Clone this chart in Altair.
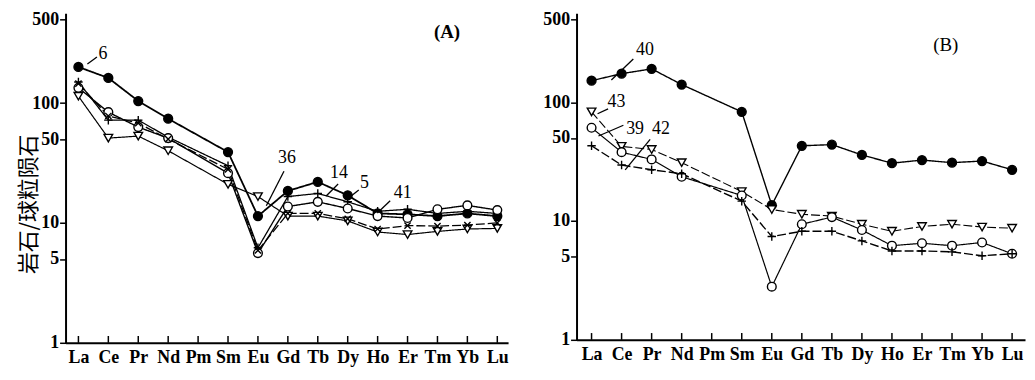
import json
import altair as alt
import pandas as pd

elements = ["La", "Ce", "Pr", "Nd", "Pm", "Sm", "Eu", "Gd", "Tb", "Dy", "Ho", "Er", "Tm", "Yb", "Lu"]

# ---- Panel A (Pm not analysed) ----
a_s6  = [200, 162, 104, 74, None, 39, 11.4, 18.5, 22, 17, 12, 11.8, 11.4, 12, 11.4]
a_s36 = [114, 51, 53, 40, None, 21, 16.6, 11.4, 11.4, 10.4, 8.4, 8.0, 8.5, 8.9, 9.0]
a_s14 = [150, 72, 72, 52, None, 30, 6.2, 16.6, 17.6, 15, 12.5, 13, 12, 12.5, 12]
a_s5  = [134, 84, 63, 51, None, 26, 5.6, 13.7, 15, 13.2, 11.4, 11, 13, 14, 12.8]
a_s41 = [145, 78, 68, 50, None, 28, 5.9, 12, 12, 10.8, 8.9, 9.5, 9.4, 9.6, 10]

# ---- Panel B ----
b_s40 = [152, 174, 191, 141, None, 83, 13.6, 43, 44, 36, 30.7, 32.6, 31, 32, 27]
b_s43 = [83, 42.5, 40, 31, None, 17.7, 12.5, 11.4, 11, 9.4, 8.2, 9.0, 9.4, 8.9, 8.7]
b_s39 = [61, 38, 33, 23.6, None, 16.4, 2.8, 9.4, 10.8, 8.4, 6.2, 6.5, 6.2, 6.6, 5.3]
b_s42 = [43, 29.6, 27, 25, None, 14.7, 7.4, 8.2, 8.2, 6.8, 5.6, 5.6, 5.5, 5.1, 5.3]

# sample -> (values, marker, line style, line width)
panel_a = {
    "6":  (a_s6,  "filled", "solid", 1.8),
    "36": (a_s36, "tri",    "solid", 1.2),
    "14": (a_s14, "plus",   "solid", 1.3),
    "5":  (a_s5,  "open",   "solid", 1.4),
    "41": (a_s41, "x",      "dash",  1.3),
}
panel_b = {
    "40": (b_s40, "filled", "solid", 1.4),
    "43": (b_s43, "tri",    "dash",  1.1),
    "39": (b_s39, "open",   "solid", 1.2),
    "42": (b_s42, "plus",   "dash",  1.4),
}

# sample labels (text, element index position, value position)
a_lab_text = ["6", "36", "14", "5", "41"]
a_lab_x = [0.82, 6.97, 8.71, 9.56, 10.84]
a_lab_y = [256, 34.7, 26, 21.5, 17.8]
# leader lines (from, to) in element-index / value space
a_lead_x1 = [0.62, 6.87, 8.68, 9.37, 10.42]
a_lead_y1 = [242, 27, 21.1, 18.8, 15.3]
a_lead_x2 = [0.30, 6.28, 8.28, 9.04, 9.99]
a_lead_y2 = [212, 13.9, 16.8, 16.2, 12.1]

b_lab_text = ["40", "43", "39", "42"]
b_lab_x = [1.78, 0.83, 1.45, 2.31]
b_lab_y = [275, 101, 60, 59]
b_lead_x1 = [1.39, 0.55, 1.06, 1.95]
b_lead_y1 = [231, 88, 64, 48.7]
b_lead_x2 = [0.66, 0.2, 0.23, 1.12]
b_lead_y2 = [154, 80, 52, 27]

panel_titles = ["(A)", "(B)"]
title_pos_x = [12.32, 11.79]
title_pos_y = [390, 303]

y_ticks = [1, 5, 10, 50, 100, 500]

marker_domain = ["filled", "open", "tri", "plus", "x"]
marker_shapes = ["circle", "circle", "triangle-down",
                 "M-1,0L1,0M0,-1L0,1", "M-0.75,-0.75L0.75,0.75M-0.75,0.75L0.75,-0.75"]
marker_fill = ["black", "white", "white", "white", "white"]
marker_size = [80, 70, 80, 110, 70]

SERIF = "Liberation Serif"


def long_df(panel):
    rows = []
    for name, (vals, marker, style, lw) in panel.items():
        for i, v in enumerate(vals):
            if v is None:
                continue
            rows.append({"sample": name, "idx": i, "el": elements[i], "v": v,
                         "marker": marker, "style": style, "lw": lw})
    return pd.DataFrame(rows)


label_expr = json.dumps(elements) + "[datum.value]"


def make_panel(panel, lab, lead, title_text, tx, ty, xdom, height, width, bold_title, ytitle):
    df = long_df(panel)
    xs = alt.Scale(domain=xdom, nice=False, zero=False)
    ys = alt.Scale(type="log", domain=[1, 560], nice=False)
    xaxis = alt.Axis(values=list(range(len(elements))), labelExpr=label_expr, ticks=False,
                     grid=False, title=None, labelFont=SERIF, labelFontSize=18,
                     labelFontWeight="bold", labelPadding=6, labelColor="black",
                     domainWidth=2, domainColor="black", labelOverlap=False)
    yargs = dict(values=y_ticks, format="d", grid=False, labelFont=SERIF, labelFontSize=18,
                 labelFontWeight="bold", labelColor="black", labelPadding=1, tickSize=6,
                 tickWidth=1.5, tickColor="black", domainWidth=2, domainColor="black",
                 labelOverlap=False)
    if ytitle:
        yargs.update(title=ytitle, titleFont="Noto Sans CJK SC", titleFontSize=22,
                     titleFontWeight="normal", titleColor="black", titlePadding=-9,
                     titleY=192)
    else:
        yargs.update(title=None)
    yaxis = alt.Axis(**yargs)

    X = alt.X("idx:Q", scale=xs, axis=xaxis)
    Y = alt.Y("v:Q", scale=ys, axis=yaxis)

    base = alt.Chart(df)
    layers = []
    # inward ticks on the element axis
    tick_df = pd.DataFrame({"idx": list(range(len(elements)))})
    layers.append(alt.Chart(tick_df).mark_rule(color="black", strokeWidth=1.5).encode(
        x=X, y=alt.datum(1), y2=alt.datum(1.14)))
    for name, (vals, marker, style, lw) in panel.items():
        dash = [9, 3] if style == "dash" else [1, 0]
        layers.append(base.transform_filter(alt.datum.sample == name).mark_line(
            color="black", strokeWidth=lw, strokeDash=dash).encode(x=X, y=Y))
    layers.append(base.mark_point(opacity=1, strokeWidth=1.4, color="black").encode(
        x=X, y=Y,
        shape=alt.Shape("marker:N", scale=alt.Scale(domain=marker_domain, range=marker_shapes), legend=None),
        fill=alt.Fill("marker:N", scale=alt.Scale(domain=marker_domain, range=marker_fill), legend=None),
        size=alt.Size("marker:N", scale=alt.Scale(domain=marker_domain, range=marker_size), legend=None),
    ))
    lab_df = pd.DataFrame({"t": lab[0], "idx": lab[1], "v": lab[2]})
    layers.append(alt.Chart(lab_df).mark_text(font=SERIF, fontSize=18, color="black").encode(
        x=X, y=Y, text="t:N"))
    lead_df = pd.DataFrame({"idx": lead[0], "v": lead[1], "idx2": lead[2], "v2": lead[3]})
    layers.append(alt.Chart(lead_df).mark_rule(color="black", strokeWidth=1.3).encode(
        x=X, y=Y, x2="idx2:Q", y2="v2:Q"))
    tdf = pd.DataFrame({"t": [title_text], "idx": [tx], "v": [ty]})
    layers.append(alt.Chart(tdf).mark_text(font=SERIF, fontSize=19, color="black",
                                           fontWeight="bold" if bold_title else "normal").encode(
        x=X, y=Y, text="t:N"))
    return alt.layer(*layers).properties(width=width, height=height)


chart_a = make_panel(panel_a, (a_lab_text, a_lab_x, a_lab_y),
                     (a_lead_x1, a_lead_y1, a_lead_x2, a_lead_y2),
                     panel_titles[0], title_pos_x[0], title_pos_y[0],
                     [-0.43, 14.36], 332, 446, True, "岩石/球粒陨石")
chart_b = make_panel(panel_b, (b_lab_text, b_lab_x, b_lab_y),
                     (b_lead_x1, b_lead_y1, b_lead_x2, b_lead_y2),
                     panel_titles[1], title_pos_x[1], title_pos_y[1],
                     [-0.5, 14.43], 329, 452, False, None)

chart = alt.hconcat(chart_a, chart_b, spacing=34).resolve_scale(
    x="independent", y="independent").configure_view(stroke=None).properties(
    padding={"left": 10, "top": 0, "right": 2, "bottom": 2}, background="white")

chart.save("out.html", embed_options={"renderer": "svg", "actions": False})
